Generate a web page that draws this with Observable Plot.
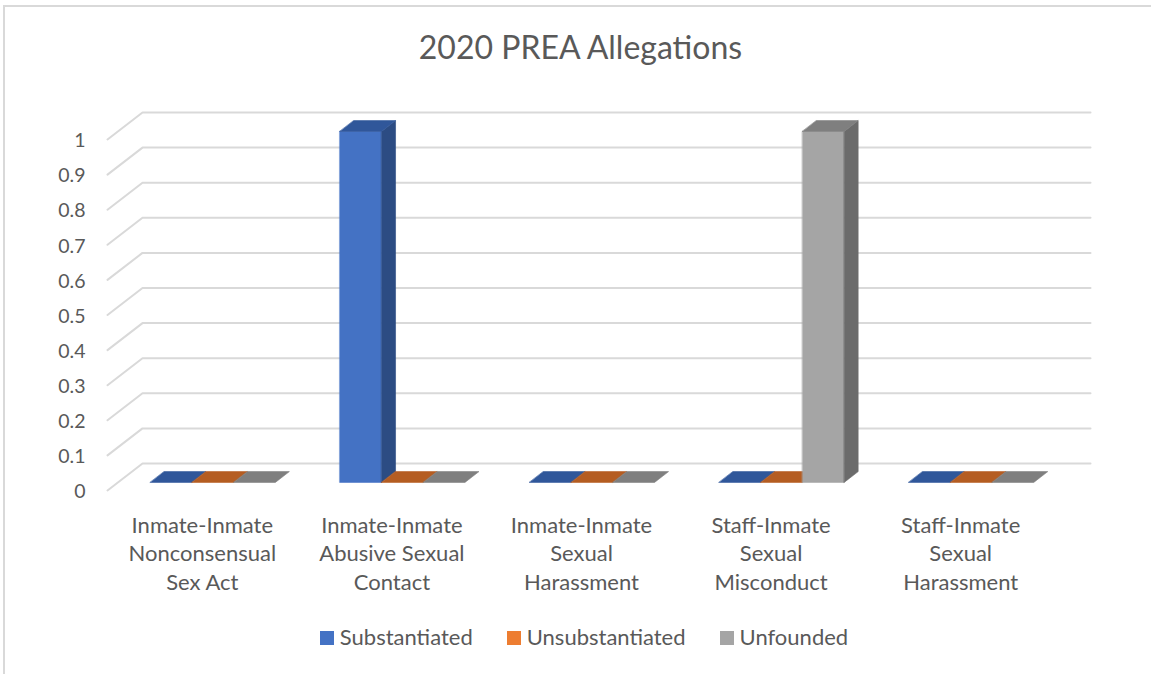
<!DOCTYPE html>
<html>
<head>
<meta charset="utf-8">
<script src="https://cdn.jsdelivr.net/npm/d3@7"></script>
<script src="https://cdn.jsdelivr.net/npm/@observablehq/plot@0.6"></script>
<style>
html, body { margin: 0; padding: 0; background: #fff; }
#chart { position: relative; width: 1151px; height: 674px; overflow: hidden; font-family: Lato, "Open Sans", sans-serif; color: #595959; }
#frame { position: absolute; left: 3px; top: 5px; width: 1200px; height: 700px; border-left: 2px solid #d9d9d9; border-top: 2px solid #d9d9d9; }
#title { position: absolute; left: 0; width: 1161px; top: 31px; text-align: center; font-size: 32px; line-height: 32px; white-space: nowrap; }
#plot { position: absolute; left: 0; top: 85px; }
#legend { position: absolute; left: 0; width: 1168px; top: 626px; display: flex; justify-content: center; gap: 34px; font-size: 22px; line-height: 22px; white-space: nowrap; }
#legend .sw { display: inline-block; width: 14px; height: 14px; margin-right: 6px; vertical-align: baseline; }
</style>
</head>
<body>
<div id="chart">
  <div id="frame"></div>
  <div id="title"></div>
  <div id="plot"></div>
  <div id="legend"></div>
</div>
<script>
// ---- data ----
const chartTitle = "2020 PREA Allegations";
const categories = [
  "Inmate-Inmate\nNonconsensual\nSex Act",
  "Inmate-Inmate\nAbusive Sexual\nContact",
  "Inmate-Inmate\nSexual\nHarassment",
  "Staff-Inmate\nSexual\nMisconduct",
  "Staff-Inmate\nSexual\nHarassment"
];
const seriesNames = ["Substantiated", "Unsubstantiated", "Unfounded"];
const substantiated = [0, 1, 0, 0, 0];
const unsubstantiated = [0, 0, 0, 0, 0];
const unfounded = [0, 0, 0, 1, 0];
const yTicks = [0, 0.1, 0.2, 0.3, 0.4, 0.5, 0.6, 0.7, 0.8, 0.9, 1];
const yTickLabels = ["0", "0.1", "0.2", "0.3", "0.4", "0.5", "0.6", "0.7", "0.8", "0.9", "1"];

// ---- styles ----
const frontColors = ["#4472C4", "#ED7D31", "#A5A5A5"];
const sideColors  = ["#2C4C83", "#A9561F", "#6B6B6B"];
const topColors   = ["#30579A", "#B55D22", "#7F7F7F"];

// ---- layout ----
const W = 1151, H = 525, mL = 107, mR = 96, mT = 54, mB = 120;
const nCat = categories.length;
const pxPerCat = (W - mL - mR) / nCat;
const pxPerUnit = (H - mT - mB) / 1;
const depthX = 35 / pxPerCat, depthY = 27 / pxPerUnit;   // oblique depth in data units
const f1 = 0.3, f2 = 0.7;                                // bar depth slice
const barW = 0.22, groupPad = (1 - seriesNames.length * barW) / 2;
const P = (x, v, d) => ({x: x + d * depthX, y: v + d * depthY});

const seriesValues = [substantiated, unsubstantiated, unfounded];

// gridlines: left wall diagonal + back wall horizontal
const grid = [];
yTicks.forEach(t => {
  [P(0, t, 0), P(0, t, 1), P(nCat, t, 1)].forEach(p => grid.push({t, x: p.x, y: p.y}));
});

// bar faces
const polys = [];
let pid = 0;
function addPoly(pts, fill) { pid++; pts.forEach(p => polys.push({id: pid, x: p.x, y: p.y, fill})); }
categories.forEach((c, i) => {
  seriesNames.forEach((s, j) => {
    const v = seriesValues[j][i];
    const xl = i + groupPad + j * barW, xr = xl + barW;
    if (v > 0) {
      addPoly([P(xl, 0, f1), P(xr, 0, f1), P(xr, v, f1), P(xl, v, f1)], frontColors[j]);
      addPoly([P(xr, 0, f1), P(xr, 0, f2), P(xr, v, f2), P(xr, v, f1)], sideColors[j]);
    }
    addPoly([P(xl, v, f1), P(xr, v, f1), P(xr, v, f2), P(xl, v, f2)], topColors[j]);
  });
});

const plot = Plot.plot({
  width: W, height: H,
  marginLeft: mL, marginRight: mR, marginTop: mT, marginBottom: mB,
  style: {fontFamily: "Lato, 'Open Sans', sans-serif", color: "#595959", background: "transparent", overflow: "visible"},
  x: {domain: [0, nCat], axis: null},
  y: {domain: [0, 1], label: null},
  color: {type: "identity"},
  marks: [
    Plot.line(grid, {x: "x", y: "y", z: "t", stroke: "#d9d9d9", strokeWidth: 2}),
    Plot.axisY(yTicks, {tickFormat: d => yTickLabels[yTicks.indexOf(d)], tickSize: 0, tickPadding: 22, fontSize: 19.5, dy: 1.5, label: null}),
    Plot.line(polys, {x: "x", y: "y", z: "id", fill: "fill", stroke: "fill", strokeWidth: 0.6, curve: "linear-closed"}),
    Plot.text(categories, {x: (d, i) => i + 0.5, y: d => 0, text: d => d, dy: 22, lineAnchor: "top", fontSize: 22, lineHeight: 1.295, fill: "#595959"})
  ]
});
document.getElementById("plot").appendChild(plot);

document.getElementById("title").textContent = chartTitle;
const legend = document.getElementById("legend");
seriesNames.forEach((s, j) => {
  const item = document.createElement("span");
  const sw = document.createElement("span");
  sw.className = "sw";
  sw.style.background = frontColors[j];
  item.appendChild(sw);
  item.appendChild(document.createTextNode(s));
  legend.appendChild(item);
});
</script>
</body>
</html>
